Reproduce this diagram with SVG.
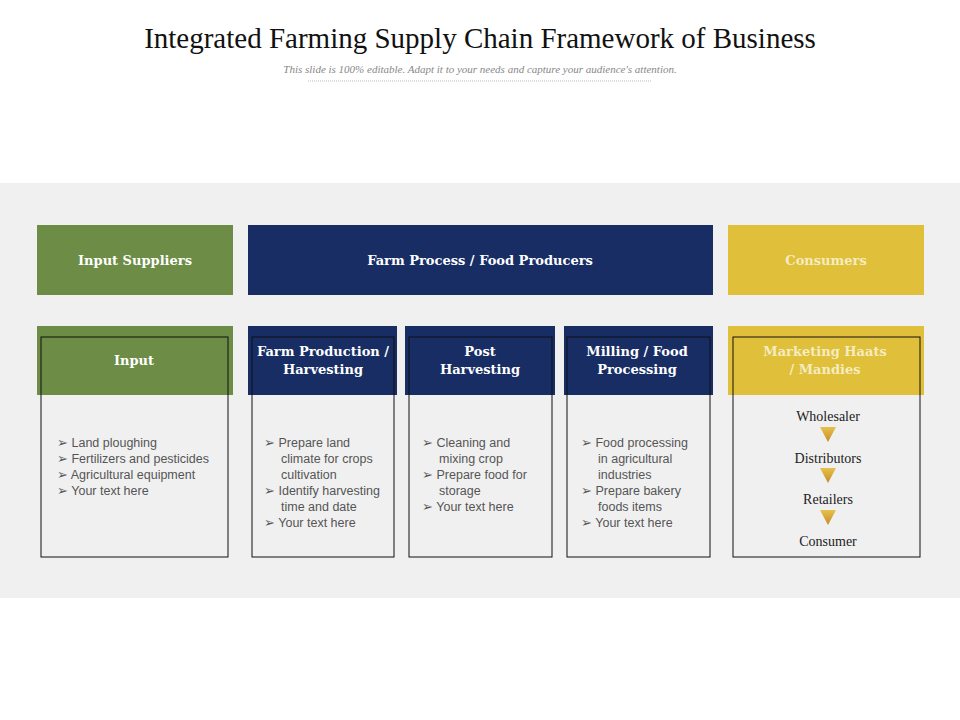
<svg xmlns="http://www.w3.org/2000/svg" width="960" height="720" viewBox="0 0 960 720">
<defs>
<style>
.title{font-family:"Liberation Serif",serif;font-size:29px;fill:#111}
.sub{font-family:"Liberation Serif",serif;font-size:11px;font-style:italic;fill:#888}
.hd{font-family:"DejaVu Serif","Liberation Serif",serif;font-weight:bold;font-size:13px;fill:#fff}
.hdy{font-family:"DejaVu Serif","Liberation Serif",serif;font-weight:bold;font-size:13px;fill:#f5ecc0}
.bl{font-family:"Liberation Sans",sans-serif;font-size:12.5px;fill:#555}
.ch{font-family:"Liberation Serif",serif;font-size:14px;fill:#222}
.box{fill:none;stroke:#111;stroke-width:1}
.g{fill:#6d8c46}.b{fill:#172d64}.y{fill:#e0bf3a}
</style>
<linearGradient id="tri" x1="0" y1="0" x2="0" y2="1"><stop offset="0" stop-color="#e6c24a"/><stop offset="1" stop-color="#c98a2a"/></linearGradient>
</defs>
<rect width="960" height="720" fill="#fff"/>
<text class="title" x="480" y="48" text-anchor="middle">Integrated Farming Supply Chain Framework of Business</text>
<text class="sub" x="480" y="73" text-anchor="middle">This slide is 100% editable. Adapt it to your needs and capture your audience's attention.</text>
<line x1="308" y1="81" x2="652" y2="81" stroke="#bbb" stroke-dasharray="1,1"/>
<rect x="0" y="183" width="960" height="415" fill="#f0f0f0"/>
<g id="input-suppliers"><rect class="g" x="37" y="225" width="196" height="70"/><text class="hd" x="135" y="265" text-anchor="middle">Input Suppliers</text></g>
<g id="farm-process"><rect class="b" x="248" y="225" width="465" height="70"/><text class="hd" x="480" y="265" text-anchor="middle">Farm Process / Food Producers</text></g>
<g id="consumers"><rect class="y" x="728" y="225" width="196" height="70"/><text class="hdy" x="826" y="265" text-anchor="middle">Consumers</text></g>
<g id="input"><rect class="g" x="37" y="326" width="196" height="69"/><rect class="box" x="41" y="337" width="187" height="220"/><text class="hd" x="134" y="365" text-anchor="middle">Input</text>
<text class="bl"><tspan x="57" y="447">➢  Land ploughing</tspan><tspan x="57" y="463">➢  Fertilizers and pesticides</tspan><tspan x="57" y="479">➢  Agricultural equipment</tspan><tspan x="57" y="495">➢  Your text here</tspan></text></g>
<g id="farm-production"><rect class="b" x="248" y="326" width="149" height="69"/><rect class="box" x="252" y="337" width="142" height="220"/><text class="hd" x="323" y="356" text-anchor="middle">Farm Production /</text><text class="hd" x="323" y="374" text-anchor="middle">Harvesting</text>
<text class="bl"><tspan x="264" y="447">➢  Prepare land</tspan><tspan x="281" y="463">climate for crops</tspan><tspan x="281" y="479">cultivation</tspan><tspan x="264" y="495">➢  Identify harvesting</tspan><tspan x="281" y="511">time and date</tspan><tspan x="264" y="527">➢  Your text here</tspan></text></g>
<g id="post-harvesting"><rect class="b" x="405" y="326" width="150" height="69"/><rect class="box" x="409" y="337" width="143" height="220"/><text class="hd" x="480" y="356" text-anchor="middle">Post</text><text class="hd" x="480" y="374" text-anchor="middle">Harvesting</text>
<text class="bl"><tspan x="422" y="447">➢  Cleaning and</tspan><tspan x="439" y="463">mixing crop</tspan><tspan x="422" y="479">➢  Prepare food for</tspan><tspan x="439" y="495">storage</tspan><tspan x="422" y="511">➢  Your text here</tspan></text></g>
<g id="milling"><rect class="b" x="564" y="326" width="149" height="69"/><rect class="box" x="567" y="337" width="143" height="220"/><text class="hd" x="637" y="356" text-anchor="middle">Milling / Food</text><text class="hd" x="637" y="374" text-anchor="middle">Processing</text>
<text class="bl"><tspan x="581" y="447">➢  Food processing</tspan><tspan x="598" y="463">in agricultural</tspan><tspan x="598" y="479">industries</tspan><tspan x="581" y="495">➢  Prepare bakery</tspan><tspan x="598" y="511">foods items</tspan><tspan x="581" y="527">➢  Your text here</tspan></text></g>
<g id="marketing"><rect class="y" x="728" y="326" width="196" height="69"/><rect class="box" x="733" y="337" width="187" height="220"/><text class="hdy" x="825" y="356" text-anchor="middle">Marketing Haats</text><text class="hdy" x="825" y="374" text-anchor="middle">/ Mandies</text>
<text class="ch" x="828" y="421" text-anchor="middle">Wholesaler</text>
<text class="ch" x="828" y="463" text-anchor="middle">Distributors</text>
<text class="ch" x="828" y="504" text-anchor="middle">Retailers</text>
<text class="ch" x="828" y="546" text-anchor="middle">Consumer</text></g>
<g id="connectors">
<path d="M820 427 L836 427 L828 442 Z" fill="url(#tri)"/>
<path d="M820 468 L836 468 L828 483 Z" fill="url(#tri)"/>
<path d="M820 510 L836 510 L828 525 Z" fill="url(#tri)"/>
</g>
</svg>
